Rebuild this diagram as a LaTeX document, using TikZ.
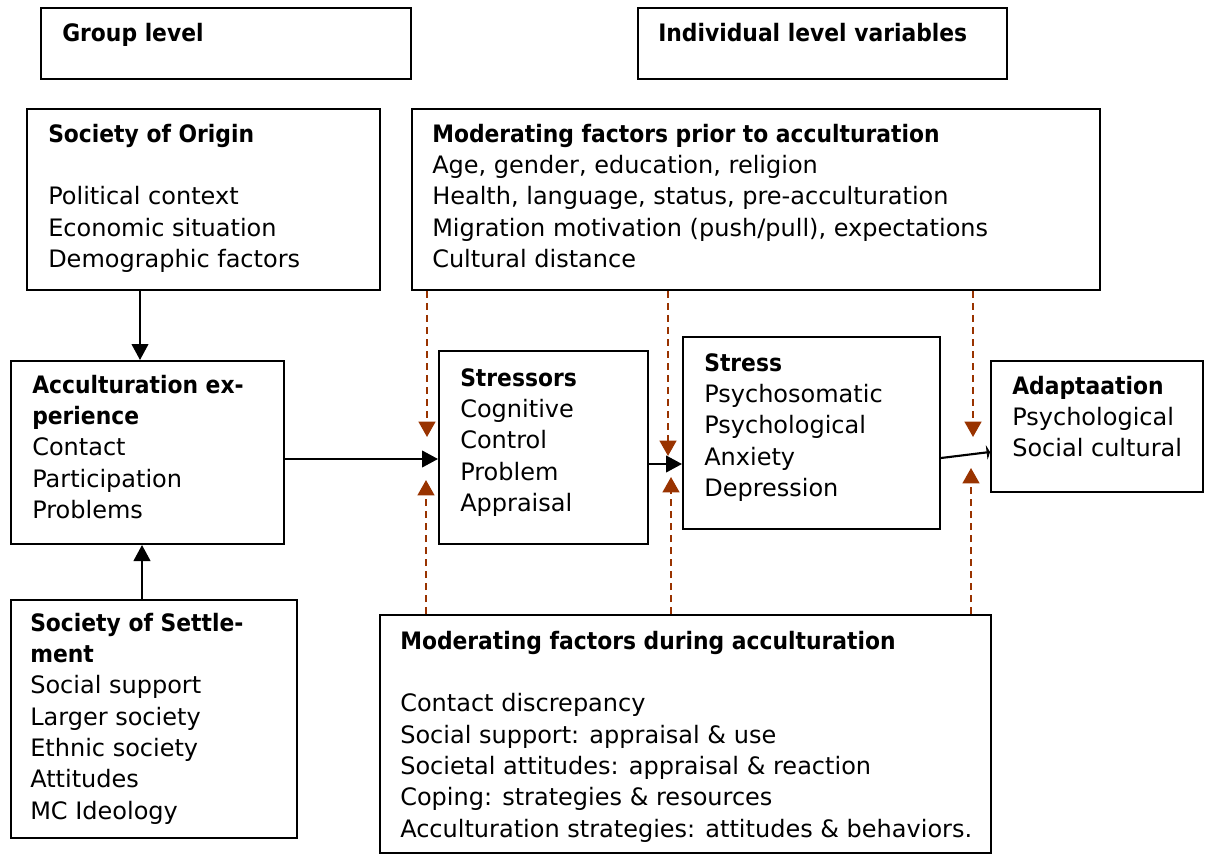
\documentclass[tikz,border=0pt]{standalone}
\usepackage{fontspec}
\setmainfont{DejaVu Sans}[BoldFeatures={FakeStretch=0.91}]
\usetikzlibrary{arrows.meta,fit}
\definecolor{brn}{RGB}{153,51,0}
\begin{document}
\begin{tikzpicture}[x=0.75pt,y=-0.75pt,
  box/.style={draw=black, line width=1.5pt, inner sep=0pt},
  txt/.style={anchor=north west, inner sep=0pt, align=left, font=\fontsize{18}{23.5}\selectfont},
  arr/.style={line width=1.6pt, -{Triangle[width=12.5pt,length=12pt]}},
  dsh/.style={draw=brn, line width=1.7pt, dash pattern=on 5.5pt off 3.5pt, -{Triangle[width=12.5pt,length=11.5pt,fill=brn]}}]
\useasboundingbox (0,0) rectangle (1205,855);
% boxes
\node[box, fit={(41,8) (411,79)}] (group) {};
\node[box, fit={(638,8) (1007,79)}] (indiv) {};
\node[box, fit={(27,109) (380,290)}] (origin) {};
\node[box, fit={(412,109) (1100,290)}] (prior) {};
\node[box, fit={(11,361) (284,544)}] (accexp) {};
\node[box, fit={(439,351) (648,544)}] (stressors) {};
\node[box, fit={(683,337) (940,529)}] (stress) {};
\node[box, fit={(991,361) (1203,492)}] (adapt) {};
\node[box, fit={(11,600) (297,838)}] (settle) {};
\node[box, fit={(380,615) (991,853)}] (during) {};
% texts
\node[txt] (tgroup) at (62,19) {\strut\textbf{Group level}};
\node[txt] (tindiv) at (658,19) {\strut\textbf{Individual level variables}};
\node[txt] (torigin) at (48,120) {\strut\textbf{Society of Origin}\\[23.5pt]
  Political context\\ Economic situation\\ Demographic factors};
\node[txt] (tprior) at (432,120) {\strut\textbf{Moderating factors prior to acculturation}\\
  Age, gender, education, religion\\
  Health, language, status, pre-acculturation\\
  Migration motivation (push/pull), expectations\\
  Cultural distance};
\node[txt] (taccexp) at (32,371) {\strut\textbf{Acculturation ex-}\\ \textbf{perience}\\
  Contact\\ Participation\\ Problems};
\node[txt] (tstressors) at (460,364) {\strut\textbf{Stressors}\\ Cognitive\\ Control\\ Problem\\ Appraisal};
\node[txt] (tstress) at (704,349) {\strut\textbf{Stress}\\ Psychosomatic\\ Psychological\\ Anxiety\\ Depression};
\node[txt] (tadapt) at (1012,372) {\strut\textbf{Adaptaation}\\ Psychological\\ Social cultural};
\node[txt] (tsettle) at (30,609) {\strut\textbf{Society of Settle-}\\ \textbf{ment}\\
  Social support\\ Larger society\\ Ethnic society\\ Attitudes\\ MC Ideology};
\node[txt] (tduring) at (400,627) {\strut\textbf{Moderating factors during acculturation}\\[23.5pt]
  Contact discrepancy\\
  Social support: appraisal \& use\\
  Societal attitudes: appraisal \& reaction\\
  Coping: strategies \& resources\\
  Acculturation strategies: attitudes \& behaviors.};
% connector helpers
\coordinate (xa) at (140,0);
\coordinate (xb) at (142,0);
\coordinate (ya) at (0,459);
\coordinate (yb) at (0,464);
\coordinate (yc1) at (0,458);
\coordinate (yc2) at (0,452);
\draw[arr] (origin.south -| xa) -- (accexp.north -| xa);
\draw[arr] (settle.north -| xb) -- (accexp.south -| xb);
\draw[arr] (accexp.east |- ya) -- (stressors.west |- ya);
\draw[arr] (stressors.east |- yb) -- (stress.west |- yb);
\draw[line width=1.6pt, -{Triangle[width=11pt,length=2.5pt]}] (stress.east |- yc1) -- (adapt.west |- yc2);
% dashed moderators
\coordinate (d1t) at (427,437);
\coordinate (d1b) at (426,480);
\coordinate (d2t) at (668,456);
\coordinate (d2b) at (671,477);
\coordinate (d3t) at (973,437);
\coordinate (d3b) at (971,468);
\draw[dsh] (prior.south -| d1t) -- (d1t);
\draw[dsh] (prior.south -| d2t) -- (d2t);
\draw[dsh] (prior.south -| d3t) -- (d3t);
\draw[dsh] (during.north -| d1b) -- (d1b);
\draw[dsh] (during.north -| d2b) -- (d2b);
\draw[dsh] (during.north -| d3b) -- (d3b);
\end{tikzpicture}
\end{document}
